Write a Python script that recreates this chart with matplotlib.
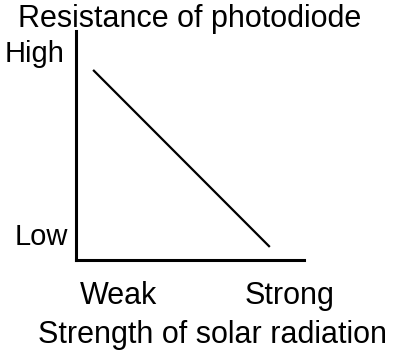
import matplotlib.pyplot as plt

# qualitative sketch: resistance falls as radiation gets stronger
strength = [0.075, 0.85]
resistance = [0.83, 0.057]

x_labels = ["Weak", "Strong"]
x_label_pos = [0.185, 0.935]
y_labels = ["High", "Low"]
y_label_pos = [0.90, 0.10]
y_label_x = [-0.05, -0.035]

plt.rcParams["font.family"] = ["Liberation Sans", "DejaVu Sans"]

W, H = 416, 356
fig = plt.figure(figsize=(W / 100, H / 100), dpi=100)

# axes box in pixels: left 76, right 304, top 31, bottom 260
left, right, top, bottom = 76, 304, 31, 260
ax = fig.add_axes([left / W, 1 - bottom / H, (right - left) / W, (bottom - top) / H])
ax.set_xlim(0, 1)
ax.set_ylim(0, 1)

ax.plot(strength, resistance, color="black", lw=1.6, solid_capstyle="butt")

for s in ["top", "right"]:
    ax.spines[s].set_visible(False)
for s in ["left", "bottom"]:
    ax.spines[s].set_linewidth(2.2)
ax.set_xticks([])
ax.set_yticks([])

for lab, pos in zip(x_labels, x_label_pos):
    ax.text(pos, -0.19, lab, transform=ax.transAxes, ha="center", va="baseline", fontsize=22)
for lab, pos, xp in zip(y_labels, y_label_pos, y_label_x):
    ax.text(xp, pos, lab, transform=ax.transAxes, ha="right", va="center", fontsize=21)

fig.text(18 / W, 1 - 27 / H, "Resistance of photodiode", ha="left", va="baseline", fontsize=22)
fig.text(212 / W, 1 - 343 / H, "Strength of solar radiation", ha="center", va="baseline", fontsize=22)

fig.savefig("out.png", dpi=100)
